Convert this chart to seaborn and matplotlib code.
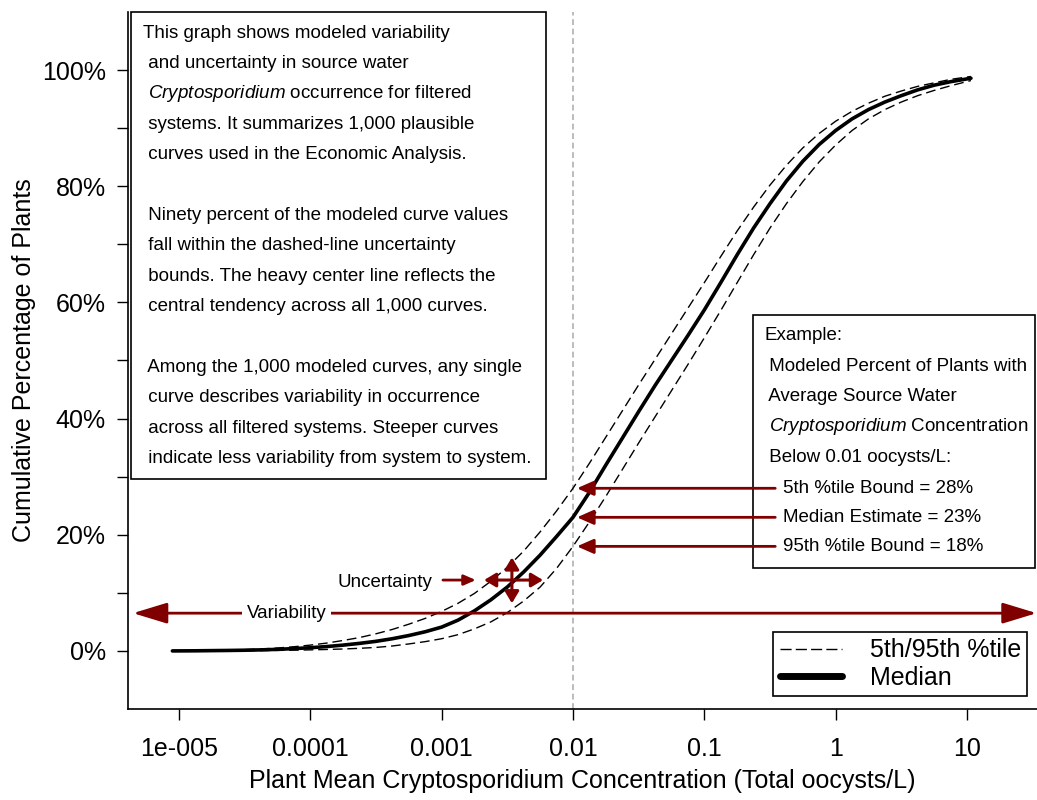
import numpy as np
import pandas as pd
import matplotlib
matplotlib.use("Agg")
import matplotlib.pyplot as plt
import seaborn as sns
from matplotlib.patches import Rectangle
from matplotlib.lines import Line2D

# ---------------- data ----------------
log10_conc = [-5.05, -4.875, -4.75, -4.625, -4.5, -4.375, -4.25, -4.125, -4.0,
              -3.875, -3.75, -3.625, -3.5, -3.375, -3.25, -3.125, -3.0,
              -2.875, -2.75, -2.625, -2.5, -2.375, -2.25, -2.125, -2.0,
              -1.875, -1.75, -1.625, -1.5, -1.375, -1.25, -1.125, -1.0,
              -0.875, -0.75, -0.625, -0.5, -0.375, -0.25, -0.125, 0.0,
              0.125, 0.25, 0.375, 0.5, 0.625, 0.75, 0.875, 1.03]
median_pct = [0.0, 0.02, 0.05, 0.08, 0.12, 0.18, 0.27, 0.4, 0.55,
              0.75, 1.0, 1.3, 1.65, 2.1, 2.65, 3.3, 4.1,
              5.3, 6.9, 8.8, 11.0, 13.6, 16.5, 19.7, 23.0,
              27.3, 32.0, 36.6, 41.2, 45.7, 50.0, 54.3, 58.7,
              63.4, 68.2, 72.8, 77.0, 80.9, 84.3, 87.2, 89.6,
              91.6, 93.2, 94.5, 95.6, 96.6, 97.4, 98.0, 98.6]
upper_pct = [0.0, 0.03, 0.08, 0.14, 0.22, 0.33, 0.5, 0.72, 1.0,
             1.35, 1.8, 2.3, 2.95, 3.7, 4.6, 5.6, 6.8,
             8.2, 9.9, 12.0, 14.4, 17.2, 20.5, 24.1, 28.0,
             32.3, 36.8, 41.3, 45.8, 50.2, 54.6, 59.0, 63.4,
             67.9, 72.3, 76.4, 80.2, 83.6, 86.6, 89.1, 91.2,
             92.9, 94.3, 95.5, 96.4, 97.2, 97.8, 98.4, 98.9]
lower_pct = [0.0, 0.0, 0.01, 0.02, 0.04, 0.06, 0.09, 0.13, 0.18,
             0.25, 0.33, 0.45, 0.6, 0.85, 1.2, 1.6, 2.1,
             2.8, 3.8, 5.0, 6.6, 8.6, 11.0, 14.2, 18.0,
             22.2, 26.6, 31.2, 35.8, 40.3, 44.8, 49.3, 53.9,
             58.6, 63.4, 68.2, 72.8, 77.0, 80.8, 84.2, 87.1,
             89.6, 91.6, 93.2, 94.5, 95.6, 96.5, 97.3, 98.2]

xtick_values = [1e-5, 1e-4, 1e-3, 1e-2, 1e-1, 1, 10]
xtick_labels = ["1e-005", "0.0001", "0.001", "0.01", "0.1", "1", "10"]
ytick_values = [0, 10, 20, 30, 40, 50, 60, 70, 80, 90, 100]
ytick_labels = ["0%", "", "20%", "", "40%", "", "60%", "", "80%", "", "100%"]

example_conc = 0.01
example_values = [28, 23, 18]
example_labels = ["5th %tile Bound = 28%", "Median Estimate = 23%", "95th %tile Bound = 18%"]

info_lines = [
    "This graph shows modeled variability",
    " and uncertainty in source water",
    " $\\it{Cryptosporidium}$ occurrence for filtered",
    " systems. It summarizes 1,000 plausible",
    " curves used in the Economic Analysis.",
    "",
    " Ninety percent of the modeled curve values",
    " fall within the dashed-line uncertainty",
    " bounds. The heavy center line reflects the",
    " central tendency across all 1,000 curves.",
    "",
    " Among the 1,000 modeled curves, any single",
    " curve describes variability in occurrence",
    " across all filtered systems. Steeper curves",
    " indicate less variability from system to system.",
]
example_lines = [
    "Example:",
    " Modeled Percent of Plants with",
    " Average Source Water",
    " $\\it{Cryptosporidium}$ Concentration",
    " Below 0.01 oocysts/L:",
]

# ---------------- style ----------------
sns.set_style("ticks")
plt.rcParams["font.family"] = ["Liberation Sans", "DejaVu Sans"]
plt.rcParams["mathtext.fontset"] = "custom"
plt.rcParams["mathtext.rm"] = "Liberation Sans"
plt.rcParams["mathtext.it"] = "Liberation Sans:italic"
plt.rcParams["text.color"] = "black"
plt.rcParams["axes.labelcolor"] = "black"
plt.rcParams["xtick.color"] = "black"
plt.rcParams["ytick.color"] = "black"
plt.rcParams["xtick.labelcolor"] = "black"
plt.rcParams["ytick.labelcolor"] = "black"

W, H = 1037, 800
fig = plt.figure(figsize=(W / 100, H / 100), dpi=100)
fig.patch.set_facecolor("white")

def fx(px):
    return px / W

def fy(py):
    return 1 - py / H

ax = fig.add_axes([fx(128), fy(709), fx(1037) - fx(128), fy(12) - fy(709)])
ax.set_facecolor("white")

conc = 10 ** np.array(log10_conc)
df = pd.DataFrame({
    "conc": np.concatenate([conc, conc, conc]),
    "pct": np.concatenate([upper_pct, median_pct, lower_pct]),
    "series": ["upper"] * len(conc) + ["median"] * len(conc) + ["lower"] * len(conc),
})

dash = (0, (7, 3.5))
for name, lw, ls in [("upper", 1.0, dash), ("lower", 1.0, dash), ("median", 2.6, "-")]:
    sub = df[df.series == name]
    sns.lineplot(data=sub, x="conc", y="pct", ax=ax, color="black", lw=lw,
                 linestyle=ls, legend=False, zorder=3, estimator=None, sort=True)

ax.set_xscale("log")
ax.set_xlim(10 ** -5.388, 10 ** 1.533)
ax.set_ylim(-10, 110)

ax.axvline(example_conc, color="#b0b0b0", lw=1.2, ls=(0, (3.5, 2.2)), zorder=1)

ax.set_xticks(xtick_values)
ax.set_xticklabels(xtick_labels)
ax.xaxis.set_minor_locator(matplotlib.ticker.NullLocator())
ax.set_yticks(ytick_values)
ax.set_yticklabels(ytick_labels)
ax.tick_params(axis="both", which="major", length=8, width=1, color="black",
               labelcolor="black", labelsize=18, direction="out")
ax.tick_params(axis="y", pad=8)
ax.tick_params(axis="x", pad=12)

for s in ["top", "right"]:
    ax.spines[s].set_visible(False)
for s in ["left", "bottom"]:
    ax.spines[s].set_color("black")
    ax.spines[s].set_linewidth(1.2)

ax.set_xlabel("Plant Mean Cryptosporidium Concentration (Total oocysts/L)", fontsize=18,
              labelpad=6, color="black")
ax.set_ylabel("Cumulative Percentage of Plants", fontsize=18, labelpad=4, color="black")

red = "#800000"

# boxes (inside axes so arrows can be drawn over the example box)
ax.add_patch(Rectangle((fx(131), fy(479)), fx(546) - fx(131), fy(12) - fy(479),
                       transform=fig.transFigure, fill=True, fc="white",
                       ec="black", lw=1.2, zorder=6, clip_on=False))
ax.add_patch(Rectangle((fx(753), fy(568)), fx(1035) - fx(753), fy(315) - fy(568),
                       transform=fig.transFigure, fill=True, fc="white",
                       ec="black", lw=1.2, zorder=2, clip_on=False))

# example arrows
for v in example_values:
    ax.annotate("", xy=(10 ** -1.97, v), xytext=(10 ** -0.46, v),
                arrowprops=dict(arrowstyle="-|>,head_length=0.5,head_width=0.22",
                                color=red, lw=2, mutation_scale=20,
                                shrinkA=0, shrinkB=0), zorder=4)

# variability arrow
ax.annotate("", xy=(10 ** -5.35, 6.5), xytext=(10 ** 1.53, 6.5),
            arrowprops=dict(arrowstyle="<|-|>,head_length=1.05,head_width=0.32",
                            color=red, lw=2, mutation_scale=20,
                            shrinkA=0, shrinkB=0), zorder=4, annotation_clip=False)
ax.text(10 ** -4.18, 6.5, "Variability", fontsize=13.5, ha="center", va="center",
        zorder=5, bbox=dict(boxstyle="square,pad=0.25", fc="white", ec="none"))

# uncertainty
ax.text(10 ** -3.43, 11.7, "Uncertainty", fontsize=13.5, ha="center", va="center", zorder=5)
ax.annotate("", xy=(10 ** -2.74, 12.2), xytext=(10 ** -2.99, 12.2),
            arrowprops=dict(arrowstyle="-|>,head_length=0.5,head_width=0.22",
                            color=red, lw=2, mutation_scale=14,
                            shrinkA=0, shrinkB=0), zorder=4)
ax.annotate("", xy=(10 ** -2.677, 12.2), xytext=(10 ** -2.228, 12.2),
            arrowprops=dict(arrowstyle="<|-|>,head_length=0.5,head_width=0.3",
                            color=red, lw=2.2, mutation_scale=14,
                            shrinkA=0, shrinkB=0), zorder=4)
ax.annotate("", xy=(10 ** -2.465, 16.1), xytext=(10 ** -2.465, 8.2),
            arrowprops=dict(arrowstyle="<|-|>,head_length=0.5,head_width=0.3",
                            color=red, lw=2.2, mutation_scale=14,
                            shrinkA=0, shrinkB=0), zorder=4)

# info box text
line_h = 30.4
for i, line in enumerate(info_lines):
    if line:
        fig.text(fx(143), fy(33 + i * line_h), line, fontsize=13.5, ha="left",
                 va="center", zorder=7, color="black")

# example box text
for i, line in enumerate(example_lines):
    fig.text(fx(764), fy(336 + i * 30.3), line, fontsize=13.5, ha="left", va="center",
             zorder=7, color="black")
for v, lab in zip(example_values, example_labels):
    yp = 651 - v * 5.808
    fig.text(fx(783), fy(yp), lab, fontsize=13.5, ha="left", va="center", zorder=7,
             color="black")

# legend
handles = [Line2D([], [], color="black", lw=1.0, ls=(0, (8, 3))),
           Line2D([], [], color="black", lw=5, solid_capstyle="round")]
leg = fig.legend(handles, ["5th/95th %tile", "Median"], loc="upper right",
                 bbox_to_anchor=(fx(1027), fy(632)), borderaxespad=0,
                 fontsize=18, frameon=True, fancybox=False, framealpha=1,
                 edgecolor="black", handlelength=2.5, handletextpad=1.1,
                 labelspacing=0.15, borderpad=0.25, labelcolor="black")
leg.get_frame().set_linewidth(1.2)

fig.savefig("out.png", dpi=100, facecolor="white")
